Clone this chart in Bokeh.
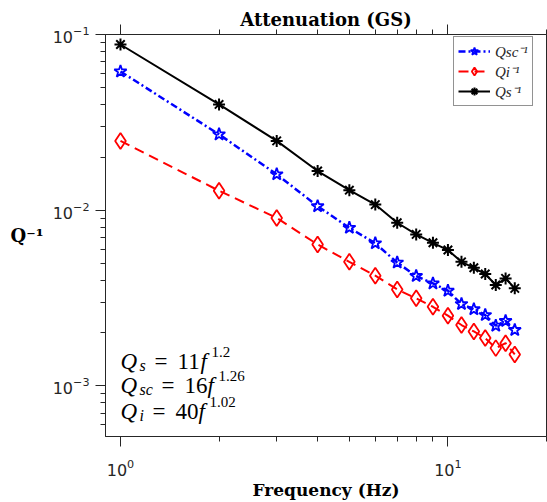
from bokeh.plotting import figure
from bokeh.models import (LogAxis, FixedTicker, LogTickFormatter, Label,
                          Legend, LegendItem)
from bokeh.embed import file_html
from bokeh.resources import INLINE

# ---------------- data ----------------
freq = [1, 2, 3, 4, 5, 6, 7, 8, 9, 10, 11, 12, 13, 14, 15, 16]
qsc_inv = [0.0616, 0.0270, 0.0160, 0.01054, 0.00794, 0.00648, 0.00503, 0.00422,
           0.00383, 0.00348, 0.00292, 0.00273, 0.00253, 0.00220, 0.00234, 0.00208]
qi_inv = [0.0248, 0.0129, 0.00904, 0.00638, 0.00508, 0.00424, 0.00354, 0.00315,
          0.00282, 0.00251, 0.00222, 0.00204, 0.00187, 0.00164, 0.00175, 0.00151]
qs_inv = [0.0877, 0.0400, 0.0248, 0.0167, 0.0130, 0.01076, 0.00848, 0.00728,
          0.00652, 0.00593, 0.00508, 0.00470, 0.00433, 0.00375, 0.00409, 0.00359]

legend_labels = ["Qsc\u207b\u00b9", "Qi\u207b\u00b9", "Qs\u207b\u00b9"]
x_major = [1, 10]
x_minor = [2, 3, 4, 5, 6, 7, 8, 9, 20]
y_major = [1e-3, 1e-2, 1e-1]
y_minor = [6e-4, 7e-4, 8e-4, 9e-4,
           2e-3, 3e-3, 4e-3, 5e-3, 6e-3, 7e-3, 8e-3, 9e-3,
           2e-2, 3e-2, 4e-2, 5e-2, 6e-2, 7e-2, 8e-2, 9e-2]

# fit formulas text: subscript, coefficient, exponent
fit_subs = ["s", "sc", "i"]
fit_coef = ["11", "16", "40"]
fit_exp = ["1.2", "1.26", "1.02"]

title_text = "Attenuation (GS)"
x_label = "Frequency (Hz)"
y_label = "Q\u207b\u00b9"

AX = "#262626"
SERIF = "Liberation Serif"
BSERIF = "DejaVu Serif"

p = figure(width=547, height=502, x_axis_type="log", y_axis_type="log",
           x_range=(0.9, 20), y_range=(5.15e-4, 0.1),
           output_backend="svg", toolbar_location=None,
           min_border_left=105, min_border_right=1,
           min_border_top=34, min_border_bottom=65)
p.xgrid.visible = False
p.ygrid.visible = False
p.outline_line_color = AX
p.outline_line_width = 1
p.background_fill_color = "white"
p.border_fill_color = "white"

p.title.text = title_text
p.title.align = "center"
p.title.text_font = BSERIF
p.title.text_font_style = "bold"
p.title.text_font_size = "18px"
p.title.text_color = "black"
p.title.standoff = -10

xt = FixedTicker(ticks=x_major, minor_ticks=x_minor)
yt = FixedTicker(ticks=y_major, minor_ticks=y_minor)

def style_axis(ax):
    ax.axis_line_color = AX
    ax.major_tick_line_color = AX
    ax.minor_tick_line_color = AX
    ax.major_tick_in = 0
    ax.major_tick_out = 10
    ax.minor_tick_in = 0
    ax.minor_tick_out = 5
    ax.major_label_text_font = "DejaVu Sans"
    ax.major_label_text_font_size = "16px"
    ax.major_label_text_color = AX

p.xaxis.ticker = xt
p.yaxis.ticker = yt
p.xaxis.formatter = LogTickFormatter()
p.yaxis.formatter = LogTickFormatter()
style_axis(p.xaxis[0])
style_axis(p.yaxis[0])
p.xaxis.major_label_standoff = 12
p.yaxis.major_label_standoff = 6

xa = p.xaxis[0]
xa.axis_label = x_label
xa.axis_label_text_font = BSERIF
xa.axis_label_text_font_style = "bold"
xa.axis_label_text_font_size = "17px"
xa.axis_label_text_color = "black"
xa.axis_label_standoff = 1

ya = p.yaxis[0]
ya.axis_label = y_label
ya.axis_label_text_font = BSERIF
ya.axis_label_text_font_style = "bold"
ya.axis_label_text_font_size = "18px"
ya.axis_label_text_color = "black"
ya.axis_label_standoff = 6
try:
    ya.axis_label_orientation = "horizontal"
except Exception:
    pass

top = LogAxis(ticker=xt, formatter=LogTickFormatter())
style_axis(top)
top.major_label_text_font_size = "2px"
top.major_label_text_alpha = 0
top.major_label_standoff = 0
p.add_layout(top, "above")

# ---------------- series ----------------
l_sc = p.line(freq, qsc_inv, line_color="blue", line_width=2.5, line_dash="7 3 2 3")
m_sc = p.scatter(freq, qsc_inv, marker="star", size=13, line_color="blue",
                 fill_color=None, line_width=1.8)
l_i = p.line(freq, qi_inv, line_color="red", line_width=2, line_dash="10 6")
m_i = p.scatter(freq, qi_inv, marker="diamond", size=16, line_color="red",
                fill_color=None, line_width=1.8)
l_s = p.line(freq, qs_inv, line_color="black", line_width=2)
m_s = p.scatter(freq, qs_inv, marker="asterisk", size=12, line_color="black",
                line_width=2)

legend = Legend(items=[
    LegendItem(label=legend_labels[0], renderers=[l_sc, m_sc]),
    LegendItem(label=legend_labels[1], renderers=[l_i, m_i]),
    LegendItem(label=legend_labels[2], renderers=[l_s, m_s]),
], location=(348, 330))
legend.label_text_font = SERIF
legend.label_text_font_style = "italic"
legend.label_text_font_size = "15px"
legend.label_text_color = AX
legend.glyph_width = 32
legend.glyph_height = 20
legend.label_height = 18
legend.spacing = -2
legend.padding = 4
legend.margin = 0
legend.label_standoff = 5
legend.border_line_color = AX
legend.border_line_width = 1.5
legend.background_fill_alpha = 1
p.add_layout(legend)

# ---------------- fit formulas (inside the frame) ----------------
def lab(x, y, text, size, style="normal"):
    p.add_layout(Label(x=x, y=y, x_units="screen", y_units="screen", text=text,
                       text_font=SERIF, text_font_size=size, text_font_style=style,
                       text_align="left", text_baseline="alphabetic", text_color="black"))

# screen coords relative to frame bottom-left (frame left=105, bottom=437)
eq_base = [75, 51, 25]
eq_sub_x = [34, 34, 34]
eq_eq_x = [49, 56, 47]
eq_coef_x = [72, 79, 70]
eq_f_x = [95, 102, 93]
eq_exp_x = [106, 113, 104]
for k in range(3):
    b = eq_base[k]
    lab(15, b, "Q", "23px", "italic")
    lab(eq_sub_x[k], b - 4, fit_subs[k], "16px", "italic")
    lab(eq_eq_x[k], b, "=", "23px")
    lab(eq_coef_x[k], b, fit_coef[k], "23px")
    lab(eq_f_x[k], b, "f", "23px", "italic")
    lab(eq_exp_x[k], b + 10, fit_exp[k], "15px")

open("out.html", "w").write(file_html(p, INLINE))
